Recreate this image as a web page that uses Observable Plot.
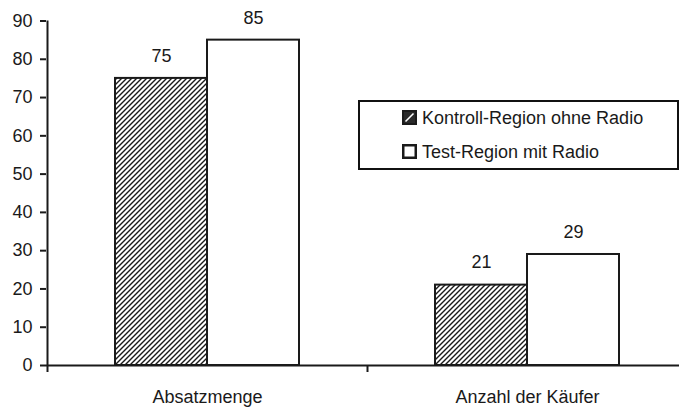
<!DOCTYPE html>
<html>
<head>
<meta charset="utf-8">
<script src="https://cdn.jsdelivr.net/npm/d3@7"></script>
<script src="https://cdn.jsdelivr.net/npm/@observablehq/plot@0.6"></script>
<style>
  html, body { margin: 0; padding: 0; background: #fff; }
  #chart { position: relative; width: 679px; height: 407px; font-family: "Liberation Sans", Arial, sans-serif; color: #1a1a1a; }
  #chart svg { display: block; }
  .legend {
    position: absolute; left: 358px; top: 100px; width: 321px; height: 70px;
    box-sizing: border-box; border: 2.5px solid #111; background: #fff;
  }
  .legend .item { position: absolute; left: 42px; display: flex; align-items: center; font-size: 18px; line-height: 18px; }
  .legend .item svg { margin-right: 5px; }
</style>
</head>
<body>
<div id="chart"></div>
<script>
// Sales experiment: control region without radio advertising vs. test region with radio
const categories = ["Absatzmenge", "Anzahl der Käufer"];
const seriesNames = ["Kontroll-Region ohne Radio", "Test-Region mit Radio"];
const kontrollValues = [75, 21];
const testValues = [85, 29];
const yTicks = [0, 10, 20, 30, 40, 50, 60, 70, 80, 90];

const rows = categories.flatMap((category, i) => [
  {category, series: seriesNames[0], value: kontrollValues[i]},
  {category, series: seriesNames[1], value: testValues[i]}
]);
const kontroll = rows.filter(d => d.series === seriesNames[0]);
const test = rows.filter(d => d.series === seriesNames[1]);

const font = "Liberation Sans, Arial, sans-serif";
const ink = "#1a1a1a";

const plot = Plot.plot({
  width: 679,
  height: 407,
  marginLeft: 46,
  marginRight: 0,
  marginTop: 20.5,
  marginBottom: 42,
  style: {fontFamily: font, fontSize: "18px", color: ink, background: "#fff"},
  x: {domain: categories, range: [46.5, 686.5], padding: 0},
  y: {domain: [0, 90], nice: false},
  marks: [
    // hatched control bars (left) and white test bars (right) within each category band
    Plot.barY(kontroll, {x: "category", y: "value", fill: "url(#hatch)", stroke: ink, strokeWidth: 2, insetLeft: 68, insetRight: 160}),
    Plot.barY(test, {x: "category", y: "value", fill: "#fff", stroke: ink, strokeWidth: 2, insetLeft: 160, insetRight: 68}),
    // value labels above the bars
    Plot.text(kontroll, {x: "category", y: "value", text: d => String(d.value), dx: -46, dy: -22.5, fontSize: 18, fill: ink}),
    Plot.text(test, {x: "category", y: "value", text: d => String(d.value), dx: 46, dy: -22, fontSize: 18, fill: ink}),
    // axis lines
    Plot.ruleY([0], {stroke: ink, strokeWidth: 2}),
    Plot.ruleX([categories[0]], {x: d => d, dx: -160, stroke: ink, strokeWidth: 2}),
    Plot.axisY({ticks: yTicks, tickSize: 6, tickPadding: 8, label: null, fontSize: 18, stroke: ink, strokeWidth: 2, fill: ink}),
    // boundary ticks between the categories
    Plot.axisX({tickSize: 7, tickFormat: () => "", dx: -160, label: null, stroke: ink, strokeWidth: 2}),
    Plot.axisX({tickSize: 0, tickPadding: 24.5, label: null, fontSize: 18, fill: ink})
  ]
});

// diagonal hatching used by the control-region bars
const defs = d3.select(plot).insert("defs", ":first-child");
const pat = defs.append("pattern")
  .attr("id", "hatch")
  .attr("patternUnits", "userSpaceOnUse")
  .attr("width", 5)
  .attr("height", 5);
pat.append("rect").attr("width", 5).attr("height", 5).attr("fill", "#fff");
pat.append("path")
  .attr("d", "M-1,1L1,-1M0,5L5,0M4,6L6,4")
  .attr("stroke", ink)
  .attr("stroke-width", 1.4);

const chart = document.getElementById("chart");
chart.appendChild(plot);

// legend box
const legend = d3.select(chart).append("div").attr("class", "legend");
const swatches = [
  `<svg width="15" height="15"><rect x="1" y="1" width="13" height="13" fill="#2a2a2a" stroke="${ink}" stroke-width="2"/><line x1="3.5" y1="11.5" x2="11.5" y2="3.5" stroke="#fff" stroke-width="1.6"/></svg>`,
  `<svg width="15" height="15"><rect x="1.25" y="1.25" width="12.5" height="12.5" fill="#fff" stroke="${ink}" stroke-width="2.5"/></svg>`
];
seriesNames.forEach((name, i) => {
  const item = legend.append("div").attr("class", "item").style("top", (i === 0 ? 6.5 : 40.5) + "px");
  item.html(swatches[i]);
  item.append("span").text(name);
});
</script>
</body>
</html>
